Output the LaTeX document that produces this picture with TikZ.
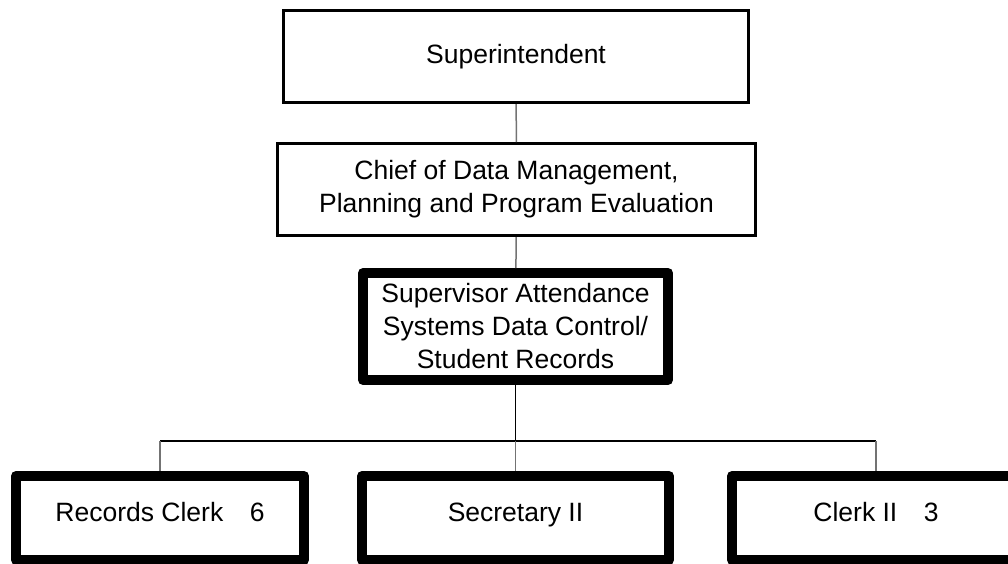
\documentclass[tikz,border=0pt]{standalone}
\usepackage{fontspec}
\setmainfont{Liberation Sans}
\usetikzlibrary{positioning}

\begin{document}
\begin{tikzpicture}[yscale=-1, x=1pt, y=1pt,
	every node/.style={font=\fontsize{26.5}{33}\selectfont, align=center, inner sep=0pt},
	thinbox/.style={draw, line width=3pt, minimum height=92},
	thickbox/.style={draw, line width=10pt, line join=round},
	staff/.style={thickbox, minimum height=84, text height=0.72em, text depth=0pt},
	link/.style={draw=black!55, line width=1.5pt},
	bus/.style={draw=black, line width=1.5pt}]

		\useasboundingbox (0, 0) rectangle (1008, 563);
		\clip (0, 0) rectangle (1008, 563);

		% chain of command
		\node [thinbox, minimum width=465]	(super)	at (516, 56.5)		{Superintendent};
		\node [thinbox, minimum width=478]	(chief)	at (516.5, 189.5)	{Chief of Data Management,\\Planning and Program Evaluation};
		\node [thickbox, minimum width=305, minimum height=107]	(sup)	at (515.5, 326.5)	{Supervisor Attendance\\Systems Data Control/\\Student Records};

		% staff
		\node [staff, minimum width=288]	(rec)	at (160, 518)		{Records Clerk\quad 6};
		\node [staff, minimum width=307]	(sec)	at (515.5, 518)	{Secretary II};
		\node [staff, minimum width=288]	(clk)	at (876, 518)		{Clerk II\quad 3};

		\coordinate (bar) at (516, 441);

		\draw [link]	(super) to (chief);
		\draw [link]	(chief) to (sup);
		\draw [bus]		(sup.south) to (sup.south |- bar);
		\draw [bus]		(rec.north |- bar) to (clk.north |- bar);
		\draw [link]	(rec.north |- bar) to (rec.north);
		\draw [link]	(sec.north |- bar) to (sec.north);
		\draw [link]	(clk.north |- bar) to (clk.north);

	\end{tikzpicture}
\end{document}
